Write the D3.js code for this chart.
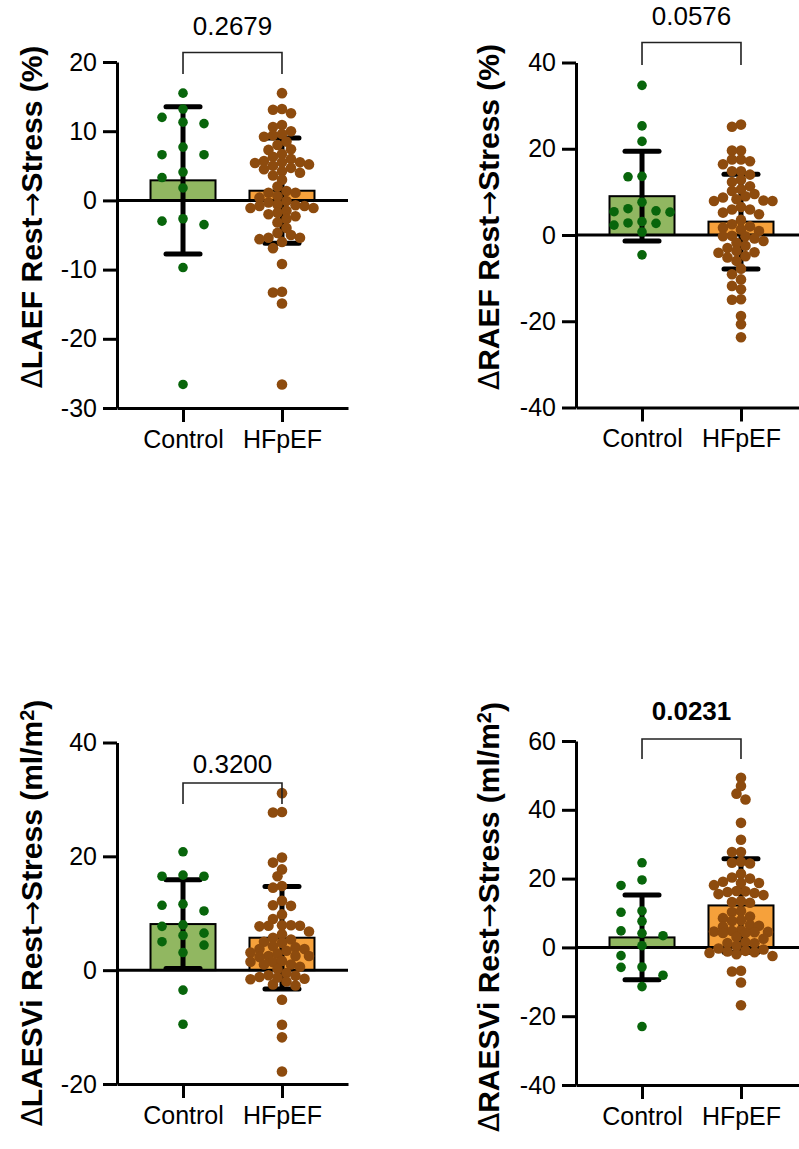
<!DOCTYPE html>
<html>
<head>
<meta charset="utf-8">
<script src="https://cdn.jsdelivr.net/npm/d3@7"></script>
<style>
  html, body { margin: 0; padding: 0; background: #fff; }
  svg { display: block; }
  text { font-family: "Liberation Sans", Arial, Helvetica, sans-serif; fill: #000; }
</style>
</head>
<body>
<svg id="chart" width="799" height="1149"></svg>
<script>
// ---------------- DATA ----------------
const groups = ["Control", "HFpEF"];

const titles = ["LAEF", "RAEF", "LAESVi", "RAESVi"];
const units = ["%", "%", "ml/m2", "ml/m2"];
const pValues = ["0.2679", "0.0576", "0.3200", "0.0231"];
const pBold = [false, false, false, true];

const yDomains = [[-30, 20], [-40, 40], [-20, 40], [-40, 60]];
const yTicks = [
  [-30, -20, -10, 0, 10, 20],
  [-40, -20, 0, 20, 40],
  [-20, 0, 20, 40],
  [-40, -20, 0, 20, 40, 60]
];

const means = [[2.9, 1.4], [9.0, 3.1], [8.1, 5.7], [2.9, 12.2]];
const sds = [[10.65, 7.6], [10.4, 11.0], [7.8, 9.0], [12.3, 13.6]];

const laefControl = [15.5, 13.2, 11.1, 11.3, 12.0, 6.6, 6.6, 7.7, 4.1, 3.3, 1.8, -3.0, -2.65, -3.5, -9.7, -26.6];
const laefHFpEF = [15.5, 13.2, 13.1, 12.6, 10.9, 10.6, 10.0, 9.6, 9.4, 9.2, 8.5, 8.0, 7.4, 7.3, 6.7, 6.3, 6.0, 5.7, 5.5,
  5.5, 5.4, 5.2, 5.0, 4.7, 4.5, 4.2, 4.0, 3.6, 3.0, 2.0, 1.35, 1.1, 1.1, 0.6, 0.4, -0.1, -0.3, -0.6, -0.7, -0.8, -0.8,
  -1.1, -1.1, -1.5, -1.8, -2.0, -2.3, -2.7, -3.2, -4.0, -4.7, -5.0, -5.4, -5.4, -5.6, -6.0, -6.9, -9.2, -13.2, -13.3,
  -14.9, -26.6];

const raefControl = [34.7, 25.3, 21.7, 13.5, 13.6, 7.6, 5.4, 5.6, 5.3, 6.1, 2.7, 3.1, 2.3, 2.8, 0.7, -4.6];
const raefHFpEF = [25.6, 25.1, 19.6, 19.6, 17.5, 17.5, 17.1, 16.4, 14.8, 14.8, 14.0, 12.8, 12.3, 11.3, 10.6, 10.2, 9.5,
  9.0, 8.7, 8.3, 8.0, 7.9, 7.9, 6.5, 5.9, 5.9, 5.2, 4.8, 3.5, 2.5, 2.0, 1.7, 1.3, 0.9, -0.2, -0.3, -0.3, -0.8, -1.4,
  -1.8, -2.5, -3.0, -3.7, -4.0, -4.1, -4.9, -5.2, -6.0, -7.8, -9.1, -10.3, -11.8, -12.6, -14.9, -15.0, -18.8, -20.7,
  -23.7];

const laesviControl = [20.8, 16.5, 16.5, 16.7, 11.4, 11.6, 10.4, 7.95, 7.7, 6.1, 6.5, 5.0, 4.4, 3.1, -3.5, -9.5];
const laesviHFpEF = [31.1, 27.8, 27.7, 19.8, 18.9, 17.7, 16.5, 14.8, 14.5, 12.2, 11.4, 11.3, 9.8, 9.0, 7.9, 7.8, 7.8,
  7.7, 7.9, 6.8, 6.3, 5.7, 5.4, 5.0, 4.8, 4.0, 3.7, 4.2, 3.7, 3.4, 2.5, 2.5, 2.3, 3.1, 2.9, 2.5, 1.0, 1.4, 1.5, 1.6,
  1.0, 0.6, 0.2, -0.5, -1.2, -1.0, -0.9, -1.5, -1.6, -2.0, -2.7, -2.5, -1.3, -5.2, -9.6, -11.8, -17.8];

const raesviControl = [24.6, 19.6, 18.0, 10.6, 10.2, 7.6, 4.8, 4.1, 3.4, 0.5, -2.4, -5.7, -5.8, -8.1, -11.4, -23.0];
const raesviHFpEF = [49.3, 46.9, 44.7, 43.0, 36.2, 31.3, 27.7, 27.7, 24.9, 24.4, 24.6, 21.4, 20.3, 20.0, 19.1, 18.7,
  18.7, 18.1, 15.5, 15.8, 15.2, 16.1, 16.3, 16.4, 13.2, 13.0, 13.5, 10.3, 10.6, 9.0, 8.5, 7.9, 7.7, 6.5, 6.3, 6.0,
  5.0, 4.8, 4.6, 4.5, 4.4, 4.2, 4.2, 3.0, 2.5, 1.5, 1.3, 1.2, 0.5, -0.3, -0.6, -1.0, -1.2, -1.4, -1.6, -2.0, -2.5,
  -6.8, -7.0, -10.2, -16.8];

const pointSets = [
  [laefControl, laefHFpEF],
  [raefControl, raefHFpEF],
  [laesviControl, laesviHFpEF],
  [raesviControl, raesviHFpEF]
];

// ---------------- LAYOUT / STYLE ----------------
const layout = [
  { axisX: 117, yTop: 62, yBot: 408, titleX: 42, titleY: 217, brTop: 52.5, brBot: 74, pY: 35, ctrlStep: 21, ctrlMax: 1 },
  { axisX: 576, yTop: 62.5, yBot: 407.5, titleX: 499, titleY: 217, brTop: 42.5, brBot: 65, pY: 25, ctrlStep: 14, ctrlMax: 2 },
  { axisX: 117, yTop: 742.5, yBot: 1084, titleX: 42, titleY: 913, brTop: 783, brBot: 804, pY: 773, ctrlStep: 21, ctrlMax: 1 },
  { axisX: 576, yTop: 741, yBot: 1085, titleX: 499, titleY: 917, brTop: 739, brBot: 759, pY: 720, ctrlStep: 21, ctrlMax: 1 }
];
const axisLen = 231;
const barFill = ["#91b761", "#f6a13b"];
const dotFill = ["#08650b", "#8d4b0e"];
const dotR = [4.8, 5.3];
const barWidth = 65;
const capHalf = 17;

const svg = d3.select("#chart");

function swarm(values, yScale, step, minDist, kmax) {
  const order = values.map((v, i) => i).sort((a, b) => values[b] - values[a]);
  const placed = [];
  const out = new Array(values.length);
  const slots = [0];
  for (let k = 1; k <= kmax; k++) { slots.push(-k, k); }
  order.forEach(i => {
    const y = yScale(values[i]);
    let best = null, bestD = -1;
    for (const k of slots) {
      const x = k * step;
      let dmin = Infinity;
      placed.forEach(p => { const d = Math.hypot(p.x - x, p.y - y); if (d < dmin) dmin = d; });
      if (dmin >= minDist) { best = x; break; }
      if (dmin > bestD) { bestD = dmin; best = x; }
    }
    placed.push({ x: best, y });
    out[i] = { x: best, y, v: values[i] };
  });
  return out;
}

layout.forEach((L, pi) => {
  const g = svg.append("g");
  const y = d3.scaleLinear().domain(yDomains[pi]).range([L.yBot, L.yTop]);
  const x = d3.scalePoint().domain(groups).range([L.axisX, L.axisX + axisLen]).padding(0.667);

  // bars
  groups.forEach((grp, gi) => {
    const m = means[pi][gi];
    g.append("rect")
      .attr("x", x(grp) - barWidth / 2)
      .attr("width", barWidth)
      .attr("y", Math.min(y(m), y(0)))
      .attr("height", Math.abs(y(m) - y(0)))
      .attr("fill", barFill[gi])
      .attr("stroke", "#000")
      .attr("stroke-width", 2);
  });

  // zero line
  g.append("line")
    .attr("x1", L.axisX).attr("x2", L.axisX + axisLen)
    .attr("y1", y(0)).attr("y2", y(0))
    .attr("stroke", "#000").attr("stroke-width", 3);

  // error bars
  groups.forEach((grp, gi) => {
    const m = means[pi][gi], s = sds[pi][gi];
    const cx = x(grp);
    g.append("line")
      .attr("x1", cx).attr("x2", cx)
      .attr("y1", y(m + s)).attr("y2", y(m - s))
      .attr("stroke", "#000").attr("stroke-width", 5);
    [m + s, m - s].forEach(v => {
      g.append("line")
        .attr("x1", cx - capHalf).attr("x2", cx + capHalf)
        .attr("y1", y(v)).attr("y2", y(v))
        .attr("stroke", "#000").attr("stroke-width", 5)
        .attr("stroke-linecap", "round");
    });
  });

  // points
  groups.forEach((grp, gi) => {
    const pts = gi === 0
      ? swarm(pointSets[pi][gi], y, L.ctrlStep, 10, L.ctrlMax)
      : swarm(pointSets[pi][gi], y, 4.5, 8, 7);
    g.append("g").selectAll("circle").data(pts).join("circle")
      .attr("cx", d => x(grp) + d.x)
      .attr("cy", d => d.y)
      .attr("r", dotR[gi])
      .attr("fill", dotFill[gi]);
  });

  // y axis
  const ya = g.append("g")
    .attr("transform", `translate(${L.axisX},0)`)
    .call(d3.axisLeft(y).tickValues(yTicks[pi]).tickSize(14).tickSizeOuter(0).tickPadding(6).tickFormat(d => String(d)));
  ya.select(".domain").attr("stroke-width", 3);
  ya.selectAll(".tick line").attr("stroke-width", 3);
  ya.selectAll(".tick text").attr("font-size", 25).attr("font-family", "Liberation Sans, Arial, sans-serif").attr("fill", "#000");

  // x axis
  const xa = g.append("g")
    .attr("transform", `translate(0,${L.yBot})`)
    .call(d3.axisBottom(x).tickSize(14).tickSizeOuter(0).tickPadding(8));
  xa.select(".domain").attr("stroke-width", 3);
  xa.selectAll(".tick line").attr("stroke-width", 3);
  xa.selectAll(".tick text").attr("font-size", 25).attr("font-family", "Liberation Sans, Arial, sans-serif").attr("fill", "#000");

  // bracket
  const x1 = x(groups[0]), x2 = x(groups[1]);
  g.append("path")
    .attr("d", `M${x1},${L.brBot}V${L.brTop}H${x2}V${L.brBot}`)
    .attr("fill", "none").attr("stroke", "#222").attr("stroke-width", 1.6);
  g.append("text")
    .attr("x", (x1 + x2) / 2).attr("y", L.pY)
    .attr("text-anchor", "middle")
    .attr("font-size", 26)
    .attr("font-weight", pBold[pi] ? "bold" : "normal")
    .text(pValues[pi]);

  // title
  const t = g.append("text")
    .attr("transform", `translate(${L.titleX},${L.titleY}) rotate(-90)`)
    .attr("text-anchor", "middle")
    .attr("font-size", 30)
    .attr("font-weight", "bold");
  t.append("tspan").attr("font-weight", "normal").attr("font-family", "DejaVu Sans").attr("font-size", 28).text("\u0394");
  t.append("tspan").text(titles[pi] + " Rest");
  t.append("tspan").attr("font-weight", "normal").attr("font-family", "DejaVu Sans").attr("font-size", 30).text("\u2192");
  const u = units[pi];
  if (u === "ml/m2") {
    t.append("tspan").text("Stress (ml/m");
    t.append("tspan").attr("dy", "-0.42em").attr("font-size", 20).text("2");
    t.append("tspan").attr("dy", "0.42em").text(")");
  } else {
    t.append("tspan").text("Stress (" + u + ")");
  }
});
</script>
</body>
</html>
